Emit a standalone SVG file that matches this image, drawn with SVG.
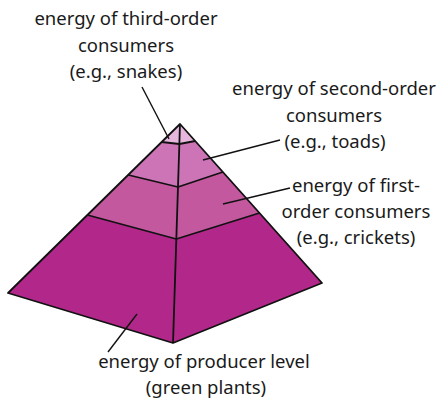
<svg xmlns="http://www.w3.org/2000/svg" width="440" height="403" viewBox="0 0 440 403">
<style>
.lbl{font-family:"Noto Sans","Open Sans","DejaVu Sans",sans-serif;font-size:18.5px;fill:#1a1a1a;text-anchor:middle}
.edge{fill:none;stroke:#111;stroke-width:1.8;stroke-linejoin:round}
.lead{fill:none;stroke:#111;stroke-width:1.4}
</style>
<rect width="440" height="403" fill="#fff"/>
<g id="pyramid">
<g id="producer-level"><polygon points="87.4,215 176.3,239 259.5,213 322,283 173,343 8,293" fill="#b2288a"/></g>
<g id="first-order"><polygon points="128.4,175 178,187 222.9,172 259.5,213 176.3,239 87.4,215" fill="#c3589f"/></g>
<g id="second-order"><polygon points="161.7,142 179.4,144 195.2,141 222.9,172 178,187 128.4,175" fill="#cd74b6"/></g>
<g id="third-order"><polygon points="180,124 195.2,141 179.4,144 161.7,142" fill="#e6b6dd"/></g>
<polygon class="edge" points="180,124 8,293 173,343 322,283"/>
<polyline class="edge" points="180,124 173,343"/>
<polyline class="edge" points="161.7,142 179.4,144 195.2,141"/>
<polyline class="edge" points="128.4,175 178,187 222.9,172"/>
<polyline class="edge" points="87.4,215 176.3,239 259.5,213"/>
</g>
<g id="connectors">
<line class="lead" x1="142" y1="87" x2="169" y2="139"/>
<line class="lead" x1="203" y1="160" x2="280" y2="140"/>
<line class="lead" x1="223" y1="204" x2="290" y2="188"/>
<line class="lead" x1="108" y1="352" x2="137" y2="314"/>
</g>
<g id="label-third">
<text class="lbl" x="126" y="25">energy of third-order</text>
<text class="lbl" x="126" y="51.5">consumers</text>
<text class="lbl" x="126" y="78">(e.g., snakes)</text>
</g>
<g id="label-second">
<text class="lbl" x="334" y="95">energy of second-order</text>
<text class="lbl" x="334" y="121.5">consumers</text>
<text class="lbl" x="335" y="148">(e.g., toads)</text>
</g>
<g id="label-first">
<text class="lbl" x="356" y="192">energy of first-</text>
<text class="lbl" x="356" y="218">order consumers</text>
<text class="lbl" x="356" y="244">(e.g., crickets)</text>
</g>
<g id="label-producer">
<text class="lbl" x="204" y="368">energy of producer level</text>
<text class="lbl" x="206" y="394">(green plants)</text>
</g>
</svg>
